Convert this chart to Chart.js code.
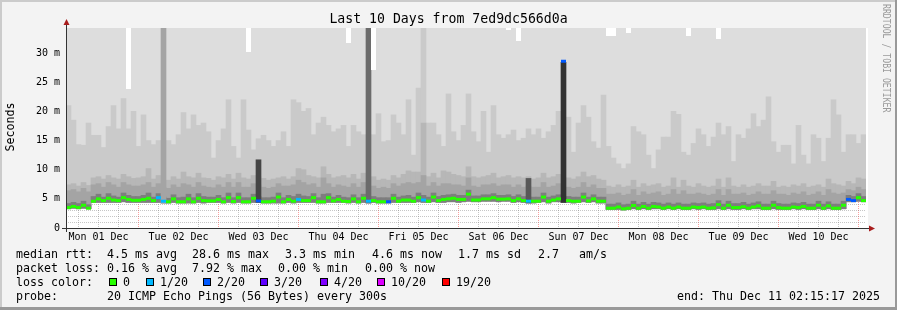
<!DOCTYPE html>
<html>
<head>
<meta charset="utf-8">
<title>Last 10 Days from 7ed9dc566d0a</title>
<script src="https://cdn.jsdelivr.net/npm/chart.js@4.4.1/dist/chart.umd.min.js"></script>
<style>
  html, body { margin: 0; padding: 0; background: #f3f3f3; }
  #wrap { position: relative; width: 897px; height: 310px; overflow: hidden; }
  #wrap canvas { position: absolute; left: 0; top: 0; }
  .txt { position: absolute; font-family: "DejaVu Sans Mono", monospace; white-space: pre; color: #000; line-height: 14px; }
  .lg { font-size: 11.63px; }
  .box { position: absolute; width: 6px; height: 6px; border: 1px solid #000; }
</style>
</head>
<body>
<div id="wrap">
  <canvas id="chart" width="897" height="310"></canvas>
  <div class="txt" style="left:0;width:897px;top:12px;text-align:center;font-size:13.2px;">Last 10 Days from 7ed9dc566d0a</div>
  <div class="txt lg" style="left:-15px;top:120px;width:50px;text-align:center;transform:rotate(-90deg);">Seconds</div>
  <div class="txt" style="left:882px;top:4px;font-size:8.2px;color:#9a9a9a;writing-mode:vertical-rl;transform:scaleX(1.3);line-height:9px;">RRDTOOL / TOBI OETIKER</div>
  <div id="legend"></div>
</div>
<script>
// ---- time axis (hours since Mon 01 Dec 00:00) ----
const startHour = 2.25;      // Mon 01 Dec 02:15
const endHour = 242.25;      // Thu 11 Dec 02:15
const binHours = 1.5;
const dayLabels = ['Mon 01 Dec', 'Tue 02 Dec', 'Wed 03 Dec', 'Thu 04 Dec', 'Fri 05 Dec',
                   'Sat 06 Dec', 'Sun 07 Dec', 'Mon 08 Dec', 'Tue 09 Dec', 'Wed 10 Dec'];

// ---- y axis (milliseconds) ----
const yMax = 34.3;
const yTickValues = [0, 5, 10, 15, 20, 25, 30];
const yTickLabels = ['0', '5 m', '10 m', '15 m', '20 m', '25 m', '30 m'];

// ---- median rtt per bin (ms) ----
const medianRtt = [
  3.5, 3.7, 3.5, 3.9, 3.4, 4.6, 5.0, 4.7, 5.1, 4.8,
  4.7, 5.2, 4.9, 4.75, 4.75, 4.9, 5.1, 4.7, 5.2, 4.6,
  4.5, 5.0, 4.5, 4.5, 5.0, 4.5, 5.1, 4.7, 4.65, 4.65,
  4.9, 4.5, 5.2, 4.55, 5.2, 4.5, 4.5, 5.1, 4.65, 4.5,
  4.5, 4.6, 5.3, 4.5, 4.9, 4.6, 4.9, 4.7, 4.7, 5.2,
  4.5, 4.5, 5.2, 4.65, 4.9, 4.6, 4.55, 5.0, 4.5, 5.1,
  4.6, 4.7, 4.5, 4.5, 4.5, 5.1, 4.6, 4.8, 4.8, 4.6,
  5.2, 4.8, 4.6, 5.3, 4.7, 4.9, 5.0, 5.1, 4.9, 4.9,
  5.8, 4.8, 4.8, 5.0, 5.0, 5.2, 4.95, 4.95, 5.0, 4.7,
  5.0, 4.7, 4.6, 4.6, 4.6, 5.3, 4.6, 4.8, 5.0, 28.6,
  4.7, 4.6, 4.6, 5.3, 4.65, 5.0, 4.6, 4.6, 3.4, 3.4,
  3.6, 3.3, 3.4, 3.85, 3.4, 3.7, 3.4, 3.7, 3.6, 3.4,
  3.6, 3.4, 3.6, 3.4, 3.4, 3.6, 3.5, 3.6, 3.4, 3.45,
  4.0, 3.4, 3.9, 3.5, 3.5, 3.65, 3.4, 3.6, 3.8, 3.4,
  3.4, 3.9, 3.5, 3.4, 3.4, 3.6, 3.5, 3.7, 3.4, 3.4,
  3.9, 3.4, 3.8, 3.4, 3.4, 3.9, 4.9, 4.7, 5.2, 4.7
];

// ---- lowest / highest ping per bin (ms) ----
const minRtt = [
  3.3, 3.4, 3.3, 3.4, 3.3, 4.4, 4.4, 4.4, 4.4, 4.4,
  4.4, 4.5, 4.4, 4.4, 4.4, 4.4, 4.4, 4.4, 4.4, 4.3,
  4.3, 4.4, 4.3, 4.3, 4.3, 4.3, 4.4, 4.3, 4.4, 4.4,
  4.4, 4.3, 4.4, 4.3, 4.4, 4.3, 4.3, 4.4, 4.4, 4.3,
  4.3, 4.3, 4.3, 4.3, 4.4, 4.3, 4.4, 4.4, 4.4, 4.4,
  4.3, 4.3, 4.4, 4.4, 4.4, 4.4, 4.3, 4.4, 4.3, 4.4,
  4.3, 4.4, 4.3, 4.3, 4.3, 4.4, 4.4, 4.4, 4.4, 4.4,
  4.5, 4.4, 4.4, 4.5, 4.4, 4.4, 4.5, 4.5, 4.4, 4.5,
  4.6, 4.5, 4.5, 4.6, 4.6, 4.6, 4.5, 4.6, 4.6, 4.4,
  4.5, 4.4, 4.3, 4.3, 4.4, 4.5, 4.3, 4.5, 4.5, 4.4,
  4.4, 4.3, 4.4, 4.5, 4.4, 4.5, 4.3, 4.3, 3.2, 3.2,
  3.2, 3.1, 3.2, 3.3, 3.2, 3.3, 3.2, 3.3, 3.3, 3.2,
  3.3, 3.2, 3.3, 3.2, 3.2, 3.3, 3.2, 3.3, 3.2, 3.2,
  3.3, 3.2, 3.3, 3.2, 3.2, 3.3, 3.2, 3.3, 3.3, 3.2,
  3.2, 3.3, 3.2, 3.2, 3.2, 3.3, 3.2, 3.3, 3.2, 3.2,
  3.3, 3.2, 3.3, 3.2, 3.2, 3.3, 4.5, 4.5, 4.6, 4.5
];
const maxRtt = [
  40, 40, 40, 40, 40, 40, 40, 40, 40, 40,
  40, 40, 23.8, 40, 40, 40, 40, 40, 40, 40,
  40, 40, 40, 40, 40, 40, 40, 40, 40, 40,
  40, 40, 40, 40, 40, 40, 30.2, 40, 40, 40,
  40, 40, 40, 40, 40, 40, 40, 40, 40, 40,
  40, 40, 40, 40, 40, 40, 31.8, 40, 40, 40,
  40, 27.1, 40, 40, 40, 40, 40, 40, 40, 40,
  40, 40, 40, 40, 40, 40, 40, 40, 40, 40,
  40, 40, 40, 40, 40, 40, 40, 40, 34, 40,
  32, 40, 40, 40, 40, 40, 40, 40, 40, 40,
  40, 40, 40, 40, 40, 40, 40, 40, 33, 33,
  40, 40, 33.4, 40, 40, 40, 40, 40, 40, 40,
  40, 40, 40, 40, 33, 40, 40, 40, 40, 40,
  32.4, 40, 40, 40, 40, 40, 40, 40, 40, 40,
  40, 40, 40, 40, 40, 40, 40, 40, 40, 40,
  40, 40, 40, 40, 40, 40, 40, 40, 40, 40
];

// ---- smoke band tops, outer to inner (ms) ----
const smoke2Top = [
  21, 18.5, 14.3, 14.2, 18, 15.9, 15.9, 13.8, 17.4, 21,
  17, 22.2, 17, 20, 14, 19.4, 15, 14.3, 15, 15,
  15, 14.3, 16, 19.8, 17, 19.4, 17.6, 18, 16.5, 12,
  15, 17, 22, 14, 12, 22, 16.8, 13.4, 15.3, 15.9,
  15, 14, 15, 16.5, 14, 22, 21.5, 20, 20.5, 16,
  18, 19, 17.6, 16.5, 17, 17.6, 14, 17.6, 16.5, 16,
  16, 16, 19.6, 14.8, 15, 19.4, 18, 16, 22, 12.5,
  24, 40, 18, 18, 16, 14, 23, 16.5, 15, 17.6,
  23, 16.5, 14.8, 20, 13, 21, 16, 15.4, 16, 16.8,
  15, 15.4, 17, 16, 17, 15.4, 16.5, 17.6, 20, 16,
  19, 13, 18, 21, 19, 14.8, 13.7, 22.8, 14, 12,
  11, 10.2, 11, 17.4, 16.5, 16, 12.5, 10.2, 13.4, 15.6,
  15.6, 20, 19.5, 13, 12.5, 14.5, 17, 16, 14, 15.6,
  18, 16, 17.4, 11.4, 16, 15.4, 17, 19.6, 17.4, 18.5,
  22.5, 14.8, 13, 14.2, 14.2, 11, 17.6, 12.5, 11, 16,
  15.4, 11.4, 15.4, 22, 19.4, 13, 16, 16, 14.5, 16
];
const smoke3Top = [
  7.4, 7.6, 7.2, 7.8, 7.3, 8.6, 8.8, 8.4, 9.0, 8.6,
  8.4, 9.2, 8.8, 8.5, 8.6, 8.8, 10.2, 8.4, 9.0, 8.2,
  8.2, 8.8, 8.4, 9.6, 8.8, 8.6, 9.4, 8.6, 8.5, 8.2,
  8.8, 8.6, 9.2, 8.4, 9.4, 8.6, 8.4, 9.0, 8.8, 8.5,
  8.2, 8.4, 8.6, 8.8, 8.4, 8.8, 10.2, 10.0, 9.0, 8.8,
  8.6, 10.5, 9.2, 8.6, 8.8, 9.0, 8.6, 9.2, 8.4, 9.4,
  8.6, 8.8, 8.2, 8.4, 8.2, 9.0, 8.6, 9.2, 9.8, 9.6,
  9.6, 18.0, 8.8, 9.4, 8.6, 9.8, 9.6, 9.2, 9.0, 8.8,
  10.5, 8.8, 8.6, 8.8, 9.0, 9.4, 8.6, 8.8, 9.0, 8.6,
  8.8, 8.6, 8.8, 8.4, 8.6, 9.4, 8.6, 8.8, 9.2, 8.6,
  8.6, 8.4, 8.8, 9.6, 8.8, 9.0, 8.4, 8.2, 7.2, 7.0,
  7.4, 7.0, 7.2, 8.2, 7.0, 7.6, 7.2, 7.4, 7.6, 7.0,
  7.2, 8.6, 7.0, 8.2, 7.2, 7.0, 7.6, 7.2, 7.0, 7.2,
  8.4, 7.0, 8.6, 7.2, 7.0, 7.4, 7.0, 7.2, 7.6, 7.2,
  7.2, 8.0, 7.0, 7.2, 7.0, 7.4, 7.2, 7.6, 7.0, 7.2,
  7.4, 7.0, 8.4, 7.6, 7.4, 7.2, 8.0, 7.6, 8.6, 8.4
];
const smoke4Top = [
  6.4, 6.6, 6.2, 6.8, 6.2, 7.4, 7.6, 7.0, 7.8, 7.4,
  7.0, 7.8, 7.4, 7.2, 7.2, 7.4, 7.8, 7.0, 7.6, 7.0,
  6.8, 7.4, 7.0, 7.6, 7.4, 7.0, 7.8, 7.2, 7.0, 6.9,
  7.4, 7.0, 7.8, 7.0, 7.8, 7.0, 7.0, 7.6, 7.4, 7.0,
  6.8, 7.0, 7.6, 7.2, 7.2, 7.4, 8.2, 7.8, 7.4, 7.6,
  7.0, 8.6, 7.6, 7.0, 7.4, 7.2, 7.0, 7.6, 7.0, 7.8,
  7.0, 7.2, 6.8, 7.0, 6.8, 7.6, 7.2, 7.6, 7.8, 7.6,
  7.8, 9.0, 7.2, 7.8, 7.2, 7.6, 7.6, 7.4, 7.4, 7.2,
  8.6, 7.2, 7.0, 7.4, 7.4, 7.6, 7.2, 7.4, 7.4, 7.0,
  7.4, 7.0, 7.2, 7.0, 7.0, 7.8, 7.0, 7.2, 7.6, 7.0,
  7.0, 6.8, 7.0, 7.8, 7.0, 7.4, 6.8, 6.8, 5.8, 5.8,
  6.0, 5.6, 5.8, 6.6, 5.6, 6.2, 5.8, 6.0, 6.2, 5.6,
  5.8, 6.6, 5.8, 6.4, 5.8, 5.8, 6.0, 5.8, 5.6, 5.8,
  6.6, 5.6, 6.6, 5.8, 5.8, 6.0, 5.6, 5.8, 6.2, 5.8,
  5.8, 6.4, 5.8, 5.8, 5.6, 6.0, 5.8, 6.2, 5.6, 5.8,
  6.2, 5.6, 6.6, 6.0, 5.8, 6.0, 6.6, 6.4, 7.0, 6.6
];
const smoke5Top = [
  4.2, 4.4, 4.2, 4.6, 4.0, 5.4, 5.8, 5.3, 5.9, 5.5,
  5.3, 6.0, 5.6, 5.4, 5.4, 5.6, 6.0, 5.3, 5.9, 5.3,
  5.1, 5.7, 5.2, 5.3, 5.8, 5.2, 5.9, 5.4, 5.3, 5.3,
  5.6, 5.2, 6.0, 5.2, 6.0, 5.2, 5.2, 5.8, 5.4, 5.2,
  5.2, 5.3, 6.0, 5.2, 5.6, 5.4, 5.8, 5.5, 5.4, 5.9,
  5.2, 5.8, 5.9, 5.3, 5.6, 5.3, 5.2, 5.7, 5.2, 5.8,
  5.3, 5.4, 5.2, 5.2, 5.2, 5.8, 5.3, 5.5, 5.6, 5.3,
  6.0, 5.6, 5.3, 6.0, 5.4, 5.6, 5.7, 5.8, 5.6, 5.6,
  6.5, 5.5, 5.5, 5.7, 5.7, 5.9, 5.6, 5.6, 5.7, 5.4,
  5.7, 5.4, 5.3, 5.3, 5.3, 6.0, 5.3, 5.5, 5.7, 5.3,
  5.4, 5.3, 5.3, 6.0, 5.3, 5.7, 5.3, 5.3, 4.1, 4.1,
  4.3, 4.0, 4.1, 4.6, 4.1, 4.4, 4.1, 4.4, 4.3, 4.1,
  4.3, 4.1, 4.3, 4.1, 4.1, 4.3, 4.2, 4.3, 4.1, 4.2,
  4.7, 4.1, 4.6, 4.2, 4.2, 4.4, 4.1, 4.3, 4.5, 4.1,
  4.1, 4.6, 4.2, 4.1, 4.1, 4.3, 4.2, 4.4, 4.1, 4.1,
  4.6, 4.1, 4.5, 4.1, 4.1, 4.6, 5.6, 5.4, 5.9, 5.4
];

// bins where the inner pings spread far (single dark columns)
const spikeBins = [19, 38, 60, 92, 99];
const spikeTops = [40, 11.7, 40, 8.5, 28.4];

// bins with packet loss (pings lost out of 20)
const lossBins = [18, 19, 38, 46, 60, 64, 71, 92, 99, 156, 157];
const lossCounts = [1, 1, 2, 1, 1, 2, 1, 1, 2, 2, 2];

// ---- styles ----
const lossSteps = [0, 1, 2, 3, 4, 10, 19];
const lossLabels = ['0', '1/20', '2/20', '3/20', '4/20', '10/20', '19/20'];
const lossColors = ['#26ff00', '#00b8ff', '#0059ff', '#5e00ff', '#7e00ff', '#dd00ff', '#ff0000'];
const smokeShades = ['#dddddd', '#cacaca', '#b7b7b7', '#a4a4a4', '#7e7e7e'];
const spikeShades = ['#a4a4a4', '#454545', '#6b6b6b', '#585858', '#323232'];
const majorGrid = 'rgba(255, 0, 0, 0.38)';
const minorGrid = 'rgba(128, 128, 128, 0.45)';
const monoFont = '"DejaVu Sans Mono", monospace';

function binCenter(i) {
    return startHour + binHours * (i + 0.5);
}

function lossColor(count) {
    let idx = 0;
    lossSteps.forEach((s, k) => { if (count >= s) idx = k; });
    return lossColors[idx];
}

function smokeLayer(tops, shade, order) {
    return {
        type: 'bar',
        data: tops.map((t, i) => ({ x: binCenter(i), y: [minRtt[i], t] })),
        backgroundColor: shade,
        borderWidth: 0,
        grouped: false,
        barPercentage: 1,
        categoryPercentage: 1,
        clip: 0,
        order: order
    };
}

const medianColors = medianRtt.map((v, i) => {
    const k = lossBins.indexOf(i);
    return lossColor(k >= 0 ? lossCounts[k] : 0);
});

const datasets = [
    {
        type: 'line',
        data: medianRtt.map((v, i) => ({ x: binCenter(i), y: v })),
        showLine: false,
        pointStyle: 'line',
        pointRadius: 2.5,
        pointBorderWidth: 3,
        pointBorderColor: medianColors,
        pointBackgroundColor: medianColors,
        clip: 0,
        order: 0
    },
    {
        type: 'bar',
        data: spikeBins.map((b, k) => ({ x: binCenter(b), y: [minRtt[b], spikeTops[k]] })),
        backgroundColor: spikeShades,
        borderWidth: 0,
        grouped: false,
        barThickness: 5,
        clip: 0,
        order: 1
    },
    smokeLayer(smoke5Top, smokeShades[4], 2),
    smokeLayer(smoke4Top, smokeShades[3], 3),
    smokeLayer(smoke3Top, smokeShades[2], 4),
    smokeLayer(smoke2Top, smokeShades[1], 5),
    smokeLayer(maxRtt, smokeShades[0], 6)
];

// canvas background, frame, empty space above max ping, axes with arrows
const rrdFrame = {
    id: 'rrdFrame',
    beforeDraw(chart) {
        const { ctx, chartArea: a, width, height } = chart;
        ctx.save();
        ctx.fillStyle = '#f3f3f3';
        ctx.fillRect(0, 0, width, height);
        ctx.fillStyle = '#cbcbcb';
        ctx.fillRect(0, 0, width, 2);
        ctx.fillRect(0, 0, 2, height);
        ctx.fillStyle = '#999999';
        ctx.fillRect(0, height - 3, width, 3);
        ctx.fillRect(width - 2, 0, 2, height);
        ctx.fillStyle = '#ffffff';
        ctx.fillRect(a.left, a.top, a.right - a.left + 2, a.bottom - a.top);
        ctx.restore();
    },
    afterDraw(chart) {
        const { ctx, chartArea: a, scales } = chart;
        ctx.save();
        // blank the gap above the highest ping, as rrdtool leaves it
        ctx.fillStyle = '#ffffff';
        maxRtt.forEach((m, i) => {
            if (m >= yMax) return;
            const xc = scales.x.getPixelForValue(binCenter(i));
            const yb = scales.y.getPixelForValue(m);
            ctx.fillRect(Math.round(xc - 2.5), a.top, 5, Math.round(yb - a.top));
        });
        ctx.strokeStyle = '#333333';
        ctx.lineWidth = 1;
        ctx.beginPath();
        ctx.moveTo(a.left + 0.5, a.bottom + 4);
        ctx.lineTo(a.left + 0.5, a.top - 5);
        ctx.moveTo(a.left - 4, a.bottom + 0.5);
        ctx.lineTo(a.right + 4, a.bottom + 0.5);
        ctx.stroke();
        ctx.fillStyle = '#a81c1c';
        ctx.beginPath();
        ctx.moveTo(a.left + 0.5, a.top - 9);
        ctx.lineTo(a.left - 2.5, a.top - 3);
        ctx.lineTo(a.left + 3.5, a.top - 3);
        ctx.closePath();
        ctx.fill();
        ctx.beginPath();
        ctx.moveTo(a.right + 9, a.bottom + 0.5);
        ctx.lineTo(a.right + 3, a.bottom - 2.5);
        ctx.lineTo(a.right + 3, a.bottom + 3.5);
        ctx.closePath();
        ctx.fill();
        ctx.restore();
    }
};

const xTicks = [];
for (let h = 6; h < endHour; h += 6) xTicks.push(h);
const yGrid = [];
for (let v = 0; v < yMax; v += 1) yGrid.push(v);

new Chart(document.getElementById('chart'), {
    type: 'bar',
    data: { datasets: datasets },
    plugins: [rrdFrame],
    options: {
        responsive: false,
        animation: false,
        events: [],
        layout: { padding: { left: 0, right: 31, top: 28, bottom: 0 } },
        plugins: {
            legend: { display: false },
            tooltip: { enabled: false },
            title: { display: false }
        },
        scales: {
            x: {
                type: 'linear',
                min: startHour,
                max: endHour,
                offset: false,
                z: 1,
                afterFit: s => { s.height = 82; },
                afterBuildTicks: s => { s.ticks = xTicks.map(v => ({ value: v })); },
                grid: {
                    offset: false,
                    drawTicks: false,
                    lineWidth: 1,
                    color: c => (c.tick && c.tick.value % 24 === 0) ? majorGrid : minorGrid
                },
                border: { display: false, dash: [1, 1] },
                ticks: {
                    autoSkip: false,
                    maxRotation: 0,
                    padding: 3,
                    color: '#000',
                    font: { family: monoFont, size: 10 },
                    callback: v => ((v - 12) % 24 === 0 ? dayLabels[(v - 12) / 24] : '')
                }
            },
            y: {
                min: 0,
                max: yMax,
                z: 1,
                afterFit: s => { s.width = 66; },
                afterBuildTicks: s => { s.ticks = yGrid.map(v => ({ value: v })); },
                grid: {
                    drawTicks: false,
                    lineWidth: 1,
                    color: c => {
                        const v = c.tick ? c.tick.value : 0;
                        if (v === 0) return 'rgba(0,0,0,0)';
                        return yTickValues.includes(v) ? majorGrid : minorGrid;
                    }
                },
                border: { display: false, dash: [1, 1] },
                ticks: {
                    autoSkip: false,
                    padding: 6,
                    color: '#000',
                    font: { family: monoFont, size: 10 },
                    callback: v => {
                        const k = yTickValues.indexOf(v);
                        return k >= 0 ? yTickLabels[k] : '';
                    }
                }
            }
        }
    }
});

// ---- legend text below the graph ----
const legendItems = [
    [16, 247, 'median rtt:'], [107, 247, '4.5 ms avg'], [192, 247, '28.6 ms max'],
    [285, 247, '3.3 ms min'], [372, 247, '4.6 ms now'], [458, 247, '1.7 ms'],
    [507, 247, 'sd'], [538, 247, '2.7'], [579, 247, 'am/s'],
    [16, 261, 'packet loss:'], [107, 261, '0.16 % avg'], [192, 261, '7.92 % max'],
    [278, 261, '0.00 % min'], [365, 261, '0.00 % now'],
    [16, 275, 'loss color:'],
    [16, 289, 'probe:'], [107, 289, '20 ICMP Echo Pings (56 Bytes) every 300s']
];
const lossBoxX = [109, 146, 203, 260, 320, 377, 442];
const legend = document.getElementById('legend');
legendItems.forEach(([x, y, s]) => {
    const d = document.createElement('div');
    d.className = 'txt lg';
    d.style.left = x + 'px';
    d.style.top = y + 'px';
    d.textContent = s;
    legend.appendChild(d);
});
lossLabels.forEach((s, k) => {
    const b = document.createElement('div');
    b.className = 'box';
    b.style.left = lossBoxX[k] + 'px';
    b.style.top = '278px';
    b.style.background = lossColors[k];
    legend.appendChild(b);
    const d = document.createElement('div');
    d.className = 'txt lg';
    d.style.left = (lossBoxX[k] + 14) + 'px';
    d.style.top = '275px';
    d.textContent = s;
    legend.appendChild(d);
});
const endText = document.createElement('div');
endText.className = 'txt lg';
endText.style.right = '17px';
endText.style.top = '289px';
endText.textContent = 'end: Thu Dec 11 02:15:17 2025';
legend.appendChild(endText);
</script>
</body>
</html>
